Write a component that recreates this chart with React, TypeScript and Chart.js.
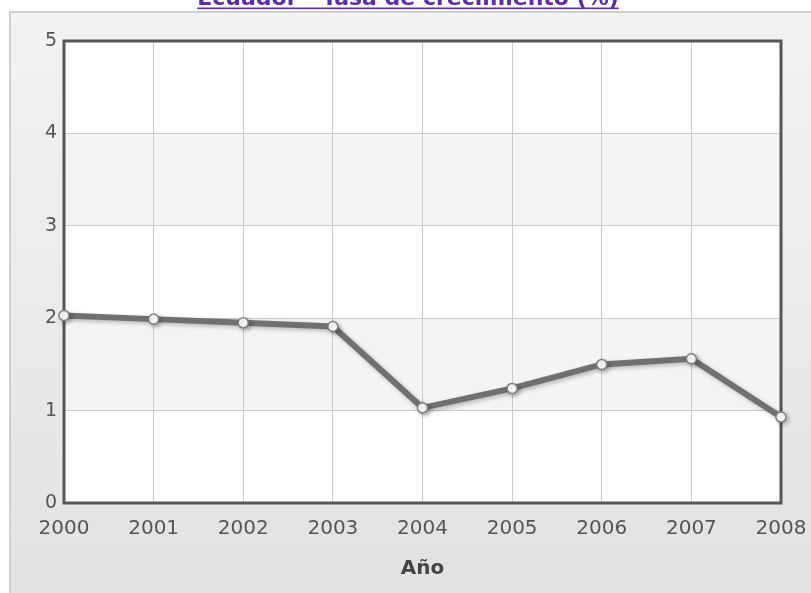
import React, { useEffect, useRef } from "react";
import { Chart, registerables } from "chart.js";

Chart.register(...registerables);

const titleText = "Ecuador - Tasa de crecimiento (%)";
const xAxisTitle = "Año";
const years = ["2000", "2001", "2002", "2003", "2004", "2005", "2006", "2007", "2008"];
const growthRate = [2.03, 1.99, 1.95, 1.91, 1.03, 1.24, 1.5, 1.56, 0.93];
const yMin = 0;
const yMax = 5;

const FONT = "'DejaVu Sans', Verdana, sans-serif";

const backgroundPlugin = {
  id: "panelBg",
  beforeDraw(chart: any) {
    const ctx = chart.ctx;
    const w = chart.width;
    const h = chart.height;
    ctx.save();
    ctx.fillStyle = "#ffffff";
    ctx.fillRect(0, 0, w, h);
    const g = ctx.createLinearGradient(0, 11, 0, h);
    g.addColorStop(0, "#f3f3f3");
    g.addColorStop(1, "#e2e2e2");
    ctx.fillStyle = g;
    ctx.fillRect(10, 11, w - 10, h - 11);
    ctx.strokeStyle = "#cfcfcf";
    ctx.lineWidth = 2;
    ctx.beginPath();
    ctx.moveTo(10, h);
    ctx.lineTo(10, 12);
    ctx.lineTo(w, 12);
    ctx.stroke();
    // title
    ctx.fillStyle = "#5e2ea0";
    ctx.font = "bold 22px " + FONT;
    ctx.textAlign = "center";
    ctx.textBaseline = "alphabetic";
    const cx = 408;
    ctx.fillText(titleText, cx, 5);
    const tw = ctx.measureText(titleText).width;
    ctx.fillRect(cx - tw / 2, 7.5, tw, 1.6);
    // plot area bands
    const { left, right, top, bottom } = chart.chartArea;
    const ys = chart.scales.y;
    ctx.fillStyle = "#ffffff";
    ctx.fillRect(left, top, right - left, bottom - top);
    ctx.fillStyle = "#f4f4f4";
    for (let v = yMin; v < yMax; v++) {
      if (v % 2 === 1) {
        const y1 = ys.getPixelForValue(v + 1);
        const y0 = ys.getPixelForValue(v);
        ctx.fillRect(left, y1, right - left, y0 - y1);
      }
    }
    ctx.restore();
  },
  beforeDatasetsDraw(chart: any) {
    const ctx = chart.ctx;
    const { left, right, top, bottom } = chart.chartArea;
    ctx.save();
    ctx.strokeStyle = "#555555";
    ctx.lineWidth = 3;
    ctx.strokeRect(left, top, right - left, bottom - top);
    ctx.restore();
  },
  beforeDatasetDraw(chart: any) {
    const ctx = chart.ctx;
    ctx.save();
    ctx.shadowColor = "rgba(0,0,0,0.25)";
    ctx.shadowBlur = 4;
    ctx.shadowOffsetX = 2;
    ctx.shadowOffsetY = 2;
  },
  afterDatasetDraw(chart: any) {
    chart.ctx.restore();
  },
};

export default function App() {
  const ref = useRef<HTMLCanvasElement>(null);
  useEffect(() => {
    if (!ref.current) return;
    const chart = new Chart(ref.current, {
      type: "line",
      data: {
        labels: years,
        datasets: [
          {
            data: growthRate,
            borderColor: "#707070",
            borderWidth: 6,
            pointBackgroundColor: "#ffffff",
            pointBorderColor: "#808080",
            pointBorderWidth: 1.5,
            pointRadius: 5,
            tension: 0,
            clip: false as any,
          },
        ],
      },
      options: {
        animation: false,
        responsive: false,
        maintainAspectRatio: false,
        layout: { padding: { left: 0, top: 41, right: 30, bottom: 0 } },
        plugins: {
          legend: { display: false },
          tooltip: { enabled: false },
          title: { display: false },
        },
        scales: {
          x: {
            type: "category",
            offset: false,
            grid: { color: "#c8c8c8", lineWidth: 1, drawTicks: false },
            border: { display: false },
            ticks: {
              color: "#555555",
              font: { family: FONT, size: 20 },
              padding: 14,
              maxRotation: 0,
              autoSkip: false,
            },
            title: {
              display: true,
              text: xAxisTitle,
              color: "#444444",
              font: { family: FONT, size: 20, weight: "bold" },
              padding: { top: 0, bottom: 12 },
            },
            afterFit(scale: any) {
              scale.height = 90;
              scale.paddingLeft = 0;
              scale.paddingRight = 0;
            },
          },
          y: {
            min: yMin,
            max: yMax,
            grid: { color: "#c8c8c8", lineWidth: 1, drawTicks: false },
            border: { display: false },
            ticks: {
              stepSize: 1,
              color: "#555555",
              font: { family: FONT, size: 19 },
              padding: 7,
            },
            afterFit(scale: any) {
              scale.width = 64;
              scale.paddingTop = 0;
              scale.paddingBottom = 0;
            },
          },
        },
      },
      plugins: [backgroundPlugin],
    });
    return () => chart.destroy();
  }, []);
  return (
    <div style={{ position: "absolute", left: 0, top: 0, width: 811, height: 593 }}>
      <canvas ref={ref} width={811} height={593} style={{ width: 811, height: 593 }} />
    </div>
  );
}
